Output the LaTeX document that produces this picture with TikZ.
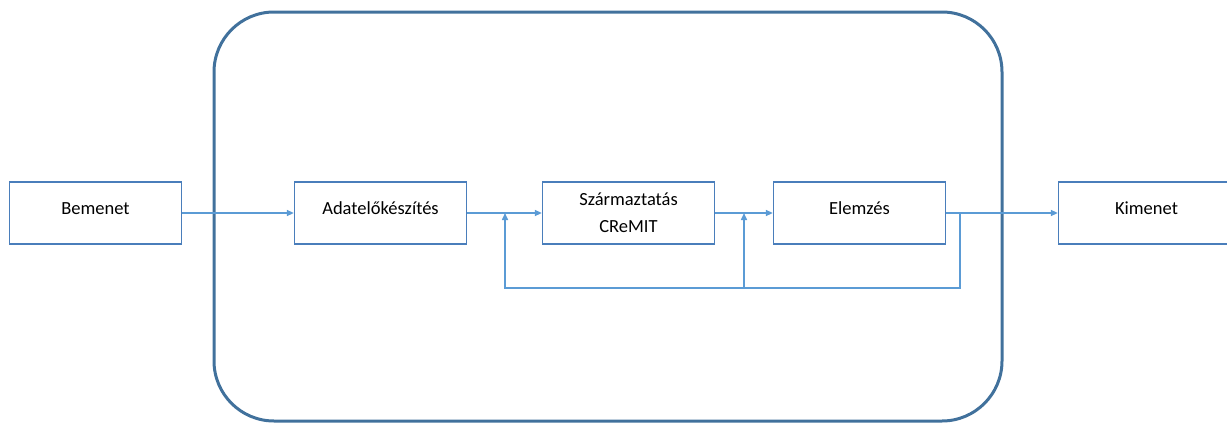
\documentclass[tikz,border=0pt]{standalone}
\usepackage{fontspec}
\setmainfont{Carlito}
\usetikzlibrary{arrows.meta,positioning}
\definecolor{frame}{HTML}{41719C}
\definecolor{edge}{HTML}{4A7EBB}
\definecolor{flow}{HTML}{5B9BD5}
\tikzset{box/.style={draw=edge,fill=white,line width=1.3pt,align=center,
  minimum width=172pt,minimum height=62pt,inner sep=2pt,
  font=\fontsize{18.5}{27}\selectfont,text height=13pt,text depth=10pt},
  twobox/.style={box,text height=,text depth=},
  arrow/.style={-{Triangle[length=7pt,width=6pt]},line width=1.5pt,draw=flow},
  line/.style={line width=1.5pt,draw=flow}}
\begin{document}
\begin{tikzpicture}[x=1pt,y=-1pt]
\useasboundingbox (0,0) rectangle (1227,423);
\clip (0,0) rectangle (1227,423);
% outer frame
\draw[frame,line width=3pt,rounded corners=60pt] (214,12) rectangle (1002,421);
% blocks
\node[box] (bem) at (95.5,213) {Bemenet};
\node[box,right=111.7pt of bem] (adat) {Adatelőkészítés};
\node[twobox,right=74.7pt of adat] (szarm) {Származtatás\\CReMIT};
\node[box,right=57.7pt of szarm] (elem) {Elemzés};
\node[box,right=111.7pt of elem,minimum width=176pt] (kim) {Kimenet};
% feedback points
\coordinate (split) at (960,213);
\coordinate (back) at (960,288);
\coordinate (j1) at (505,213);
\coordinate (j2) at (744,213);
\draw[arrow] (bem)--(adat);\draw[arrow] (adat)--(szarm);
\draw[arrow] (szarm)--(elem);\draw[arrow] (elem)--(kim);
\draw[arrow] (split)--(back)-|(j1);
\draw[arrow] (j2|-back)--(j2);
\end{tikzpicture}
\end{document}
